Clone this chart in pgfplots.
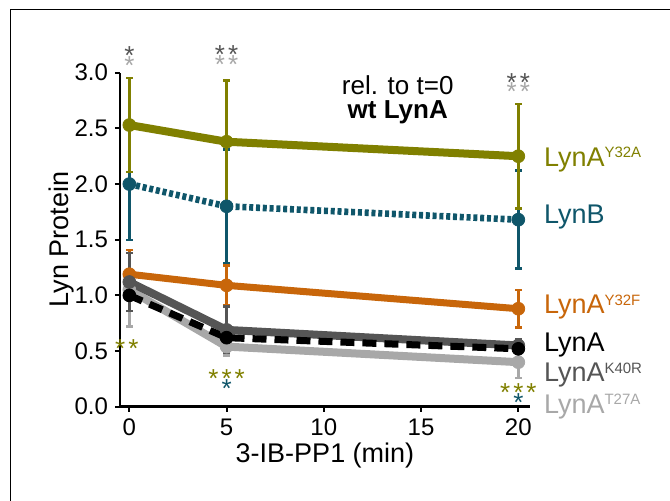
\documentclass[border=0pt]{standalone}
\usepackage{pgfplots}
\pgfplotsset{compat=1.18}
\usepackage{fontspec}
\setmainfont{Liberation Sans}

\definecolor{olivec}{HTML}{808000}
\definecolor{tealc}{HTML}{0F566A}
\definecolor{orangec}{HTML}{C8660A}
\definecolor{dgrey}{HTML}{555555}
\definecolor{lgrey}{HTML}{A8A8A8}

% superscript for the mutant names
\newcommand{\sups}[1]{\raisebox{4.3pt}{\fontsize{7.5}{7.5}\selectfont #1}}

\begin{document}
\begin{tikzpicture}
\path[use as bounding box] (-60pt,-46.65pt) rectangle (275pt,203.35pt);
\draw[line width=0.5pt] (-54.5pt,-60pt) -- (-54.5pt,198.85pt) -- (290pt,198.85pt);
\begin{axis}[
  scale only axis,
  width=205pt, height=167pt,
  xmin=-0.48, xmax=20.6,
  ymin=0, ymax=3,
  axis lines=left,
  axis line style={-, line width=1.3pt},
  tick align=outside,
  major tick length=2.5pt,
  tick style={black, line width=1pt},
  xtick={0,5,10,15,20},
  ytick={0,0.5,1,1.5,2,2.5,3},
  yticklabel style={/pgf/number format/.cd, fixed, fixed zerofill, precision=1},
  /pgf/number format/assume math mode=true,
  ticklabel style={font=\fontsize{12}{12}\selectfont},
  xlabel={3-IB-PP1 (min)},
  ylabel={Lyn Protein},
  every axis x label/.style={at={(axis description cs:0.5,-0.1685)}, anchor=base, inner sep=0pt,
    font=\fontsize{13.5}{13.5}\selectfont},
  every axis y label/.style={at={(axis description cs:-0.11,0.5)}, rotate=90, anchor=south, inner sep=0pt,
    font=\fontsize{13.5}{13.5}\selectfont},
  clip=false,
  error bars/error mark=|,
  error bars/error bar style={line width=1.2pt, solid},
  error bars/error mark options={line width=1.2pt, mark size=1.6pt},
]
% LynA Y32F
\addplot[orangec, line width=3.5pt, mark=*, mark size=3.2pt, mark options={solid, line width=0.4pt, fill=orangec},
  error bars/.cd, y dir=both, y explicit]
coordinates {(0,1.19) +- (0,0.22) (5,1.09) +- (0,0.18) (20,0.88) +- (0,0.17)};
% LynA T27A
\addplot[lgrey, line width=4pt, mark=*, mark size=3.2pt, mark options={solid, line width=0.4pt, fill=lgrey},
  error bars/.cd, y dir=both, y explicit]
coordinates {(0,1.05) +- (0,0.33) (5,0.54) +- (0,0.08) (20,0.40) +- (0,0.14)};
% LynA K40R
\addplot[dgrey, line width=4pt, mark=*, mark size=3.2pt, mark options={solid, line width=0.4pt, fill=dgrey},
  error bars/.cd, y dir=both, y explicit]
coordinates {(0,1.12) +- (0,0.26) (5,0.69) +- (0,0.21) (20,0.55) +- (0,0.06)};
% LynA
\addplot[black, line width=3.5pt, dash pattern=on 7pt off 4pt, mark=*, mark size=3.2pt, mark options={solid, line width=0.4pt, fill=black}]
coordinates {(0,1.00) (5,0.62) (20,0.52)};
% LynB
\addplot[tealc, line width=3.3pt, dash pattern=on 2pt off 1.4pt, mark=*, mark size=3.2pt, mark options={solid, line width=0.4pt, fill=tealc},
  error bars/.cd, y dir=both, y explicit]
coordinates {(0,2.00) +- (0,0.50) (5,1.80) +- (0,0.51) (20,1.68) +- (0,0.44)};
% LynA Y32A
\addplot[olivec, line width=4pt, mark=*, mark size=3.2pt, mark options={solid, line width=0.4pt, fill=olivec},
  error bars/.cd, y dir=both, y explicit]
coordinates {(0,2.53) +- (0,0.42) (5,2.38) +- (0,0.55) (20,2.25) +- (0,0.47)};

% series names
\begin{scope}[every node/.style={anchor=base west, inner sep=0pt, font=\fontsize{13.5}{13.5}\selectfont}]
\node[text=olivec] at (axis cs:21.3,2.16) {LynA\sups{Y32A}};
\node[text=tealc] at (axis cs:21.3,1.648) {LynB};
\node[text=orangec] at (axis cs:21.3,0.833) {LynA\sups{Y32F}};
\node[text=black] at (axis cs:21.3,0.494) {LynA};
\node[text=dgrey] at (axis cs:21.3,0.225) {LynA\sups{K40R}};
\node[text=lgrey] at (axis cs:21.3,-0.06) {LynA\sups{T27A}};
\end{scope}

\node[anchor=base, inner sep=0pt, font=\fontsize{13}{13}\selectfont] at (axis cs:13.8,2.80) {rel. to t=0};
\node[anchor=base, inner sep=0pt, font=\fontsize{13}{13}\selectfont\bfseries] at (axis cs:13.8,2.59) {wt LynA};

% significance stars
\begin{scope}[every node/.style={anchor=base, inner sep=0pt, yshift=-7.5pt, font=\fontsize{13}{13}\selectfont}]
\node[text=dgrey] at (axis cs:0,3.21) {*};
\node[text=lgrey] at (axis cs:0,3.12) {*};
\node[text=dgrey] at (axis cs:5,3.22) {*\hspace{1.5pt}*};
\node[text=lgrey] at (axis cs:5,3.13) {*\hspace{1.5pt}*};
\node[text=dgrey] at (axis cs:20,2.97) {*\hspace{1.5pt}*};
\node[text=lgrey] at (axis cs:20,2.885) {*\hspace{1.5pt}*};
\node[text=olivec] at (axis cs:-0.13,0.575) {*\hspace{1.5pt}*};
\node[text=olivec] at (axis cs:5,0.305) {*\hspace{1.5pt}*\hspace{1.5pt}*};
\node[text=tealc] at (axis cs:5,0.215) {*};
\node[text=olivec] at (axis cs:20,0.18) {*\hspace{1.5pt}*\hspace{1.5pt}*};
\node[text=tealc] at (axis cs:20,0.09) {*};
\end{scope}
\end{axis}
\end{tikzpicture}
\end{document}
